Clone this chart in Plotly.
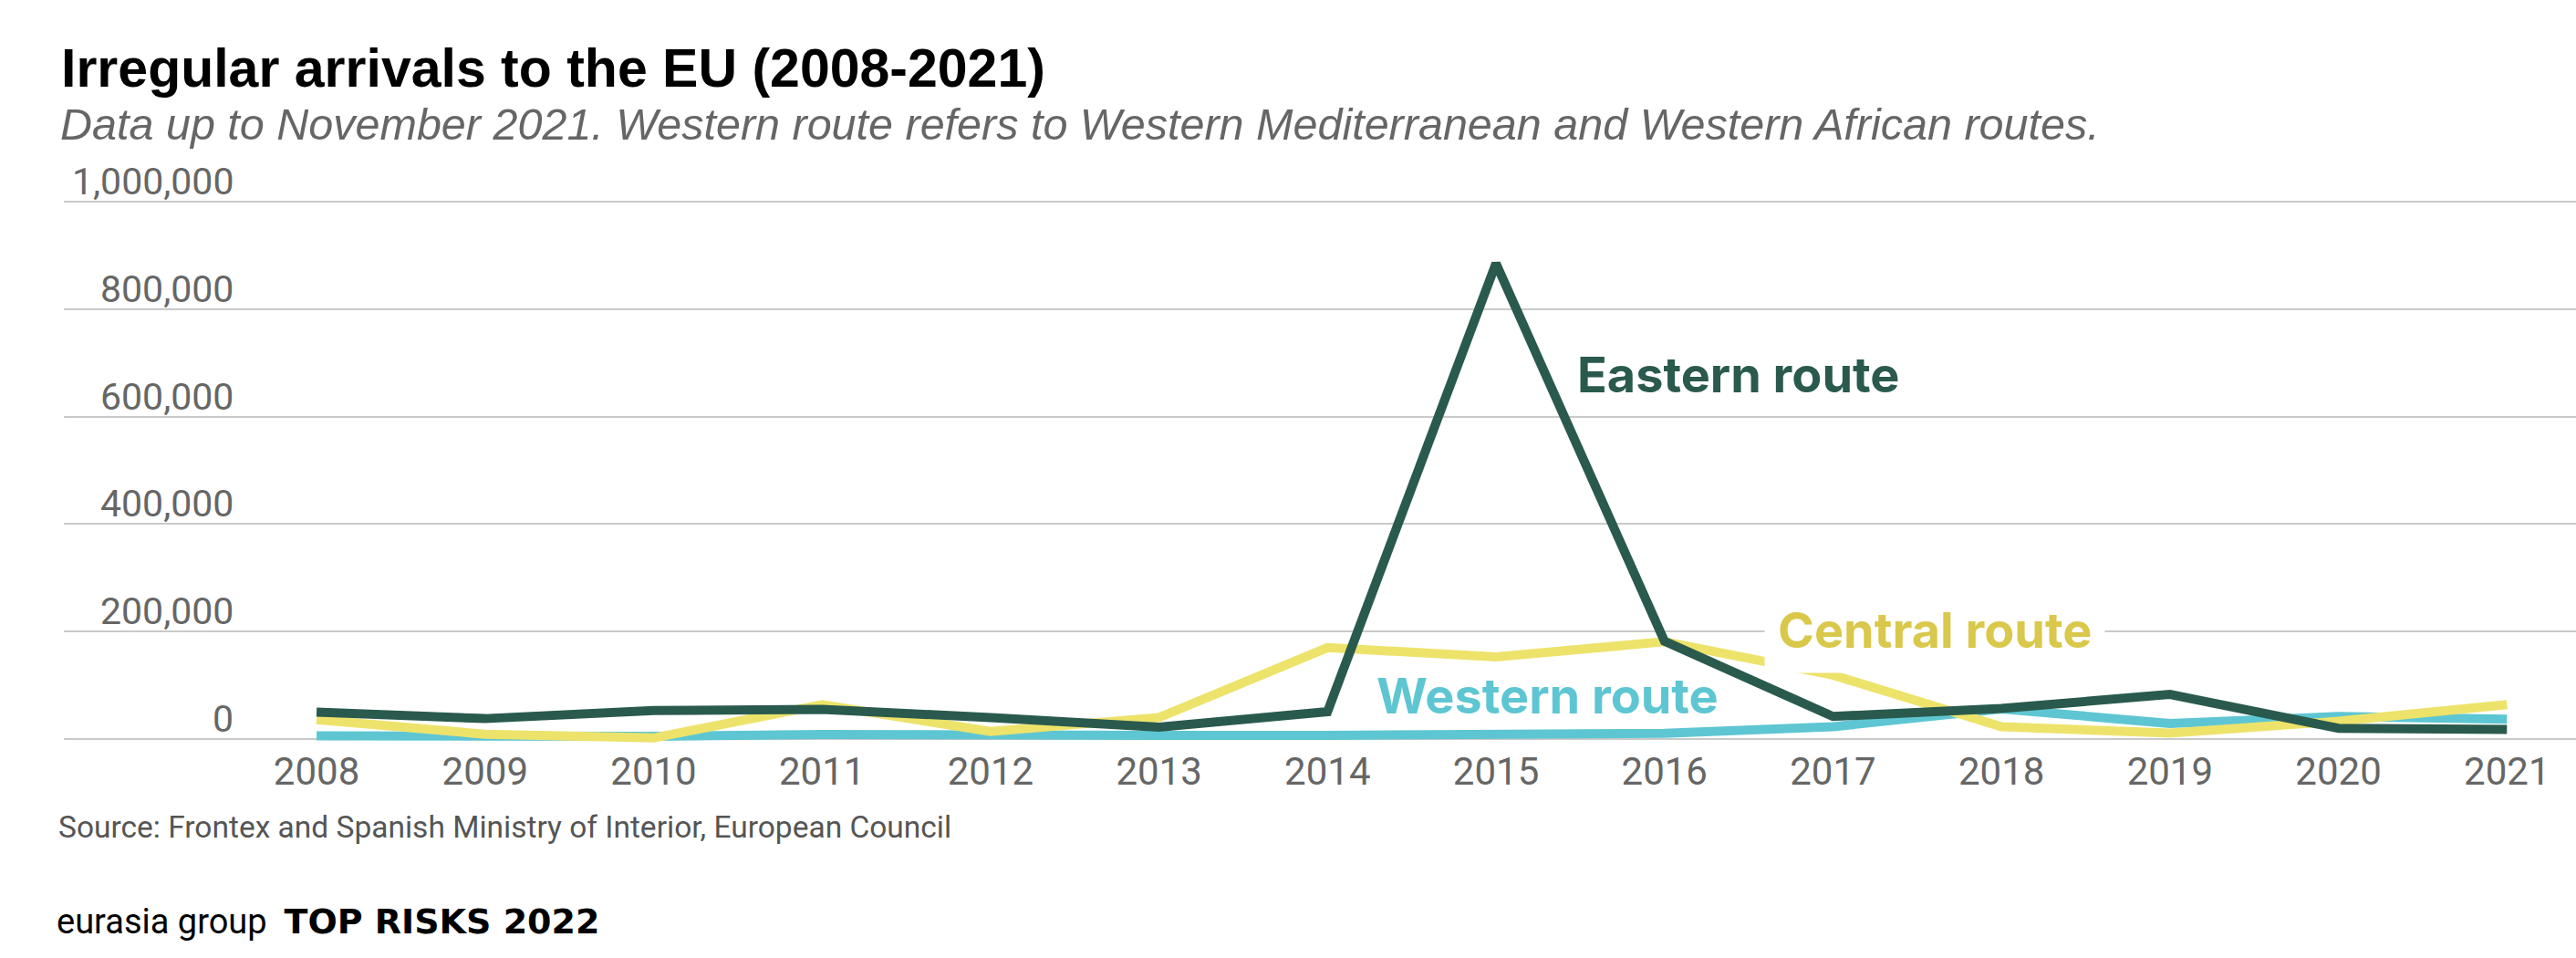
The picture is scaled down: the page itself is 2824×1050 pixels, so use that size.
import plotly.graph_objects as go

years = list(range(2008, 2022))
eastern = [50000, 38000, 53000, 55000, 40000, 22000, 51000, 885000, 182000, 42000, 57000, 83000, 20000, 18000]
central = [36000, 9000, 2000, 64000, 14000, 40000, 170000, 153000, 181000, 119000, 23000, 11000, 33000, 64000]
western = [6000, 5000, 5000, 8500, 6400, 6800, 7000, 7200, 10800, 23000, 56000, 29000, 42000, 37000]
ytick_vals = [0, 200000, 400000, 600000, 800000, 1000000]
ytick_text = ["0", "200,000", "400,000", "600,000", "800,000", "1,000,000"]

C_EAST = "#2a5a4e"
C_CENT = "#ede36b"
C_CENT_TXT = "#d9c84b"
C_WEST = "#5ec6d2"
GRAY = "#666666"

W, H = 2824, 1050
L, R, T, B = 70, 0, 219, 233
PW, PH = W - L - R, H - T - B

def px(x):
    return (x - L) / PW

def py(y):
    return (H - B - y) / PH

fig = go.Figure()
fig.add_trace(go.Scatter(x=years, y=western, mode="lines", line=dict(color=C_WEST, width=10), hoverinfo="skip"))
fig.add_trace(go.Scatter(x=years, y=central, mode="lines", line=dict(color=C_CENT, width=10), hoverinfo="skip"))
fig.add_trace(go.Scatter(x=years, y=eastern, mode="lines", line=dict(color=C_EAST, width=10), hoverinfo="skip"))

ann = []
# y tick labels (right aligned, sitting above gridlines)
for v, t in zip(ytick_vals, ytick_text):
    ann.append(dict(x=px(258), xref="paper", y=v, yref="y", text=t, showarrow=False,
                    xanchor="right", yanchor="bottom", yshift=-4,
                    font=dict(family="Roboto", size=41, color=GRAY)))

# series labels
ann.append(dict(x=2015.47, y=679000, text="<b>Eastern route</b>", showarrow=False, xanchor="left", yanchor="middle",
                font=dict(family="Inter", size=54, color=C_EAST)))
ann.append(dict(x=2016.59, y=203000, text="<b>Central route</b>", showarrow=False, xanchor="left", yanchor="middle",
                bgcolor="white", borderpad=14,
                font=dict(family="Inter", size=54, color=C_CENT_TXT)))
ann.append(dict(x=2014.28, y=81000, text="<b>Western route</b>", showarrow=False, xanchor="left", yanchor="middle",
                font=dict(family="Inter", size=54, color=C_WEST)))

# title, subtitle, source, footer
ann.append(dict(x=px(65), xref="paper", y=py(75), yref="paper", text="<b>Irregular arrivals to the EU (2008-2021)</b>",
                showarrow=False, xanchor="left", yanchor="middle",
                font=dict(family="Liberation Sans", size=59, color="#000000")))
ann.append(dict(x=px(64), xref="paper", y=py(136), yref="paper",
                text="<i>Data up to November 2021. Western route refers to Western Mediterranean and Western African routes.</i>",
                showarrow=False, xanchor="left", yanchor="middle",
                font=dict(family="Liberation Sans", size=48.5, color=GRAY)))
ann.append(dict(x=px(62), xref="paper", y=py(906), yref="paper",
                text="Source: Frontex and Spanish Ministry of Interior, European Council",
                showarrow=False, xanchor="left", yanchor="middle",
                font=dict(family="Roboto", size=33.5, color="#555555")))
ann.append(dict(x=px(60), xref="paper", y=py(1010), yref="paper",
                text="eurasia group  <span style='font-family:DejaVu Sans'><b>TOP RISKS 2022</b></span>",
                showarrow=False, xanchor="left", yanchor="middle",
                font=dict(family="Roboto", size=38, color="#000000")))

fig.update_layout(
    width=W, height=H,
    margin=dict(l=L, r=R, t=T, b=B),
    paper_bgcolor="white", plot_bgcolor="white",
    showlegend=False,
    annotations=ann,
    xaxis=dict(range=[2006.5, 2021.41], tickvals=years, ticktext=[str(y) for y in years],
               showgrid=False, zeroline=False, showline=False, ticks="",
               tickfont=dict(family="Roboto", size=42, color=GRAY)),
    yaxis=dict(range=[-11885, 1003396], tickvals=ytick_vals, showticklabels=False,
               showgrid=True, gridcolor="#c9c9c9", gridwidth=2, zeroline=False, showline=False, ticks=""),
)

fig.write_html("out.html", config={"displayModeBar": False},
               post_script="document.body.style.margin='0';")
